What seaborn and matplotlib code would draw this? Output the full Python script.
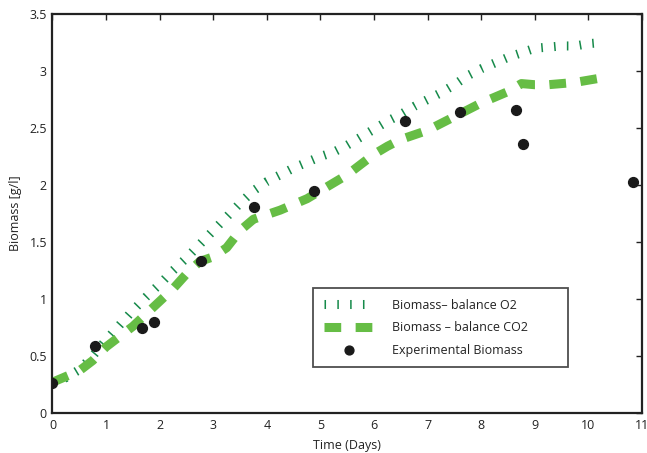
import matplotlib
matplotlib.use("Agg")
import matplotlib.pyplot as plt
import seaborn as sns
import pandas as pd

# Model curve: biomass from O2 balance
o2_days = [0.0, 0.25, 0.5, 0.75, 1.0, 1.25, 1.5, 1.75, 2.0, 2.25, 2.5, 2.75, 3.0,
           3.25, 3.5, 3.75, 4.0, 4.25, 4.5, 4.75, 5.0, 5.25, 5.5, 5.75, 6.0, 6.25,
           6.5, 6.75, 7.0, 7.25, 7.5, 7.75, 8.0, 8.25, 8.5, 8.75, 9.0, 9.25, 9.5,
           9.75, 10.0, 10.25]
o2_biomass = [0.27, 0.31, 0.38, 0.50, 0.64, 0.77, 0.90, 1.02, 1.13, 1.25, 1.36,
              1.48, 1.60, 1.72, 1.84, 1.95, 2.03, 2.09, 2.15, 2.20, 2.25, 2.29,
              2.35, 2.42, 2.49, 2.56, 2.62, 2.69, 2.75, 2.81, 2.88, 2.96, 3.02,
              3.07, 3.12, 3.16, 3.20, 3.21, 3.22, 3.22, 3.24, 3.25]

# Model curve: biomass from CO2 balance
co2_days = [0.0, 0.25, 0.5, 0.75, 1.0, 1.25, 1.5, 1.75, 2.0, 2.25, 2.5, 2.75, 3.0,
            3.25, 3.5, 3.75, 4.0, 4.25, 4.5, 4.75, 5.0, 5.25, 5.5, 5.75, 6.0, 6.25,
            6.5, 6.75, 7.0, 7.25, 7.5, 7.75, 8.0, 8.25, 8.5, 8.75, 9.0, 9.25, 9.5,
            9.75, 10.0, 10.25, 10.4]
co2_biomass = [0.27, 0.32, 0.37, 0.46, 0.58, 0.67, 0.76, 0.87, 0.98, 1.09, 1.22,
               1.33, 1.37, 1.45, 1.60, 1.70, 1.74, 1.78, 1.83, 1.88, 1.95, 2.02,
               2.09, 2.18, 2.27, 2.34, 2.40, 2.44, 2.48, 2.54, 2.60, 2.66, 2.72,
               2.77, 2.82, 2.89, 2.88, 2.88, 2.89, 2.90, 2.92, 2.94, 2.95]

# Experimental measurements
exp_days = [0.0, 0.8, 1.67, 1.89, 2.78, 3.76, 4.88, 6.58, 7.6, 8.65, 8.78, 10.83]
exp_biomass = [0.26, 0.59, 0.75, 0.80, 1.33, 1.81, 1.95, 2.56, 2.64, 2.66, 2.36, 2.03]

x_ticks = list(range(0, 12))
y_ticks = [0, 0.5, 1, 1.5, 2, 2.5, 3, 3.5]
y_tick_labels = ["0", "0.5", "1", "1.5", "2", "2.5", "3", "3.5"]

sns.set_theme(style="white")
plt.rcParams["font.family"] = ["Open Sans", "DejaVu Sans"]

fig = plt.figure(figsize=(6.47, 4.53), dpi=100)
ax = fig.add_axes([0.0811, 0.0883, 0.9112, 0.8807])

df_o2 = pd.DataFrame({"t": o2_days, "b": o2_biomass})
df_co2 = pd.DataFrame({"t": co2_days, "b": co2_biomass})
df_exp = pd.DataFrame({"t": exp_days, "b": exp_biomass})

sns.lineplot(data=df_o2, x="t", y="b", ax=ax, sort=False, color="#168a4a",
             linewidth=6.5, label="Biomass\u2013 balance O2")
l1 = ax.lines[-1]
l1.set_dashes((0.17, 1.25))
l1.set_dash_capstyle("butt")

sns.lineplot(data=df_co2, x="t", y="b", ax=ax, sort=False, color="#66bd45",
             linewidth=6.5, label="Biomass \u2013 balance CO2")
l2 = ax.lines[-1]
l2.set_dashes((1.85, 1.6))
l2.set_dash_capstyle("butt")

sns.scatterplot(data=df_exp, x="t", y="b", ax=ax, color="#1a1a1a", marker="o",
                s=50, edgecolor="#1a1a1a", linewidth=1.0, zorder=5,
                label="Experimental Biomass")

ax.set_xlim(0, 11)
ax.set_ylim(0, 3.5)
ax.set_xticks(x_ticks)
ax.set_xticklabels([str(v) for v in x_ticks])
ax.set_yticks(y_ticks)
ax.set_yticklabels(y_tick_labels)
ax.tick_params(direction="in", length=4.5, width=1.0, top=True, right=True,
               labelsize=9, colors="#222222", pad=4)
for s in ax.spines.values():
    s.set_color("#222222")
    s.set_linewidth(1.6)
ax.set_xlabel("Time (Days)", fontsize=9, color="#222222", labelpad=5)
ax.set_ylabel("Biomass [g/l]", fontsize=9, color="#222222", labelpad=5)

leg = ax.legend(loc="upper left", bbox_to_anchor=(0.442, 0.114, 0.433, 0.199),
                mode="expand", fontsize=9, frameon=True, fancybox=False,
                handlelength=4.0, handletextpad=1.5, labelspacing=0.75,
                borderpad=0.85, borderaxespad=0, markerscale=0.9)
leg.get_frame().set_edgecolor("#222222")
leg.get_frame().set_linewidth(1.3)
for t in leg.get_texts():
    t.set_color("#222222")

fig.savefig("out.png", dpi=100)
